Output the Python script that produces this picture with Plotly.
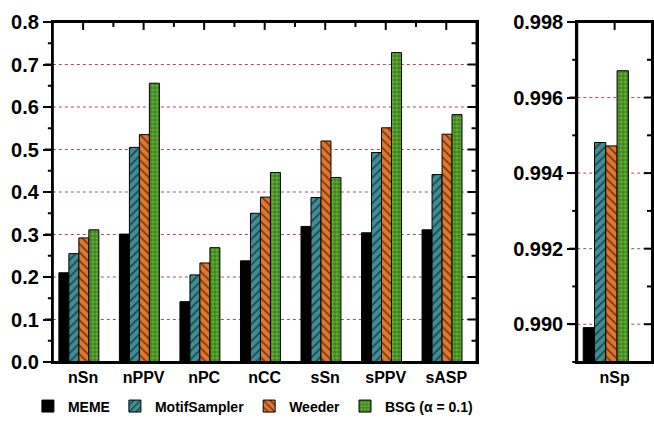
import plotly.graph_objects as go

# ---------------- data ----------------
categories = ["nSn", "nPPV", "nPC", "nCC", "sSn", "sPPV", "sASP"]
meme = [0.210, 0.301, 0.142, 0.238, 0.319, 0.304, 0.311]
motif_sampler = [0.255, 0.505, 0.205, 0.350, 0.387, 0.493, 0.441]
weeder = [0.292, 0.535, 0.233, 0.388, 0.520, 0.551, 0.536]
bsg = [0.311, 0.656, 0.269, 0.446, 0.434, 0.728, 0.582]

nsp_category = ["nSp"]
nsp_meme = [0.98991]
nsp_motif_sampler = [0.99481]
nsp_weeder = [0.99472]
nsp_bsg = [0.99671]

series_names = ["MEME", "MotifSampler", "Weeder", "BSG (\u03b1 = 0.1)"]
left_ticks = [0.0, 0.1, 0.2, 0.3, 0.4, 0.5, 0.6, 0.7, 0.8]
right_ticks = [0.990, 0.992, 0.994, 0.996, 0.998]

# ---------------- style ----------------
colors = ["#000000", "#3f8e96", "#e3762b", "#5cb132"]
shapes = ["", "/", "\\", "+"]
pat_sizes = [6, 6, 6, 4]
pat_sol = [0.2, 0.3, 0.3, 0.3]

W, H = 654, 423
T, B = 22, 57
PH = H - T - B
LX0, LX1 = 53, 478
RX0, RX1 = 579, 654
LEFT_RANGE = [0.0, 0.8]
RIGHT_RANGE = [0.989, 0.998]
FONT = "Liberation Sans, Arial, sans-serif"
grid_color = "rgba(165,40,70,0.85)"

fig = go.Figure()

left_vals = [meme, motif_sampler, weeder, bsg]
right_vals = [nsp_meme, nsp_motif_sampler, nsp_weeder, nsp_bsg]
left_w, left_off0 = 0.165, -0.40
right_w, right_off0 = 0.151, -0.42

for i in range(4):
    pattern = dict(shape=shapes[i], fgcolor="black", bgcolor=colors[i],
                   size=pat_sizes[i], solidity=pat_sol[i], fillmode="overlay")
    fig.add_trace(go.Bar(
        x=categories, y=left_vals[i], name=series_names[i],
        xaxis="x", yaxis="y", width=left_w, offset=left_off0 + i * left_w,
        marker=dict(color=colors[i], line=dict(color="black", width=1),
                    pattern=pattern),
        showlegend=True,
    ))
    fig.add_trace(go.Bar(
        x=nsp_category, y=right_vals[i], name=series_names[i],
        xaxis="x2", yaxis="y2", width=right_w, offset=right_off0 + i * right_w,
        marker=dict(color=colors[i], line=dict(color="black", width=1),
                    pattern=pattern),
        showlegend=False,
    ))

tickfont_y = dict(family=FONT, size=20, color="black", weight="bold")
tickfont_x = dict(family=FONT, size=16, color="black", weight="bold")

fig.update_layout(
    width=W, height=H,
    margin=dict(l=0, r=0, t=T, b=B),
    plot_bgcolor="white", paper_bgcolor="white",
    barmode="overlay",
    xaxis=dict(domain=[LX0 / W, LX1 / W], anchor="y", range=[-0.5, 6.5],
               showline=True, linecolor="black", linewidth=2, mirror=True,
               ticks="", showgrid=False, tickfont=tickfont_x),
    yaxis=dict(domain=[0, 1], anchor="x", range=LEFT_RANGE, dtick=0.1, tick0=0,
               tickformat=".1f", ticks="outside", ticklen=8,
               tickwidth=2, tickcolor="black", tickfont=tickfont_y,
               showline=True, linecolor="black", linewidth=2, mirror=True,
               showgrid=False),
    xaxis2=dict(domain=[RX0 / W, 1.0], anchor="y2", range=[-0.5, 0.5],
                showline=True, linecolor="black", linewidth=2, mirror=True,
                ticks="", showgrid=False, tickfont=tickfont_x),
    yaxis2=dict(domain=[0, 1], anchor="x2", range=RIGHT_RANGE, dtick=0.002,
                tick0=0.990, tickformat=".3f",
                ticks="outside", ticklen=8, tickwidth=2, tickcolor="black",
                tickfont=tickfont_y,
                showline=True, linecolor="black", linewidth=2, mirror=True,
                showgrid=False),
    legend=dict(
        x=28 / W, xanchor="left", y=(366 - 411) / PH, yanchor="middle",
        orientation="h", bgcolor="rgba(0,0,0,0)",
        font=dict(family=FONT, size=14, color="black", weight="bold"),
    ),
)

# dotted grid lines at the major tick values
grid_line = dict(color=grid_color, width=1, dash="dot")
for v in left_ticks[1:-1]:
    fig.add_shape(type="line", xref="x domain", yref="y", x0=0, x1=1,
                  y0=v, y1=v, line=grid_line, layer="below")
for v in right_ticks[:-1]:
    fig.add_shape(type="line", xref="x2 domain", yref="y2", x0=0, x1=1,
                  y0=v, y1=v, line=grid_line, layer="below")

# frame and tick marks drawn on the axis domains (never clipped)
tick_line = dict(color="black", width=2)
lw = LX1 - LX0
rw = RX1 - RX0


def frac(v, rng):
    return (v - rng[0]) / (rng[1] - rng[0])


def hline(ax, v, rng, x0, x1):
    fig.add_shape(type="line", xref=ax + " domain", yref=("y" if ax == "x" else "y2") + " domain",
                  x0=x0, x1=x1, y0=frac(v, rng), y1=frac(v, rng),
                  line=tick_line, layer="above")


def vline(ax, xf, length):
    fig.add_shape(type="line", xref=ax + " domain", yref=("y" if ax == "x" else "y2") + " domain",
                  x0=xf, x1=xf, y0=1, y1=1 - length / PH,
                  line=tick_line, layer="above")


for ax in ["x", "x2"]:
    fig.add_shape(type="rect", xref=ax + " domain",
                  yref=("y" if ax == "x" else "y2") + " domain",
                  x0=0, x1=1, y0=0, y1=1, line=dict(color="black", width=2),
                  fillcolor="rgba(0,0,0,0)", layer="above")

left_minor = [(a + b) / 2 for a, b in zip(left_ticks[:-1], left_ticks[1:])]
right_minor = [(a + b) / 2 for a, b in zip(right_ticks[:-1], right_ticks[1:])] + [0.989]

for v in left_ticks:
    hline("x", v, LEFT_RANGE, 0, -8 / lw)
    hline("x", v, LEFT_RANGE, 1, 1 - 9 / lw)
for v in left_minor:
    hline("x", v, LEFT_RANGE, 0, -5 / lw)
    hline("x", v, LEFT_RANGE, 1, 1 - 5 / lw)
n = len(categories)
for k in range(n):
    vline("x", (k + 0.5) / n, 8)
for k in range(1, n):
    vline("x", k / n, 5)

for v in right_ticks:
    hline("x2", v, RIGHT_RANGE, 0, -8 / rw)
    hline("x2", v, RIGHT_RANGE, 1, 1 - 8 / rw)
for v in right_minor:
    hline("x2", v, RIGHT_RANGE, 0, -5 / rw)
    hline("x2", v, RIGHT_RANGE, 1, 1 - 5 / rw)
vline("x2", 0.5, 8)

fig.write_html("out.html")
